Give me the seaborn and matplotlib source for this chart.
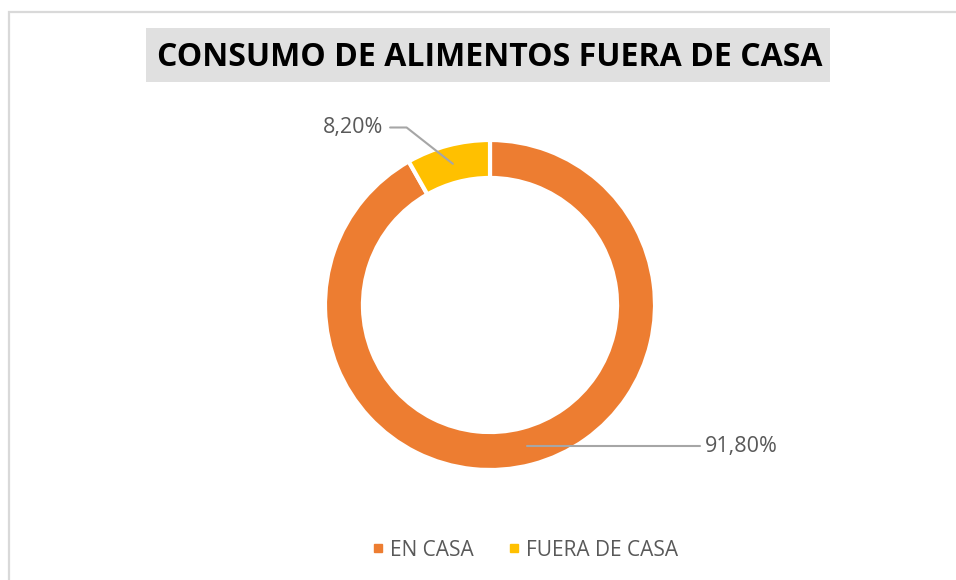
import numpy as np
import seaborn as sns
import matplotlib.pyplot as plt
from matplotlib.patches import Rectangle
from matplotlib.lines import Line2D

# data
categories = ["EN CASA", "FUERA DE CASA"]
shares = [91.8, 8.2]
pct_labels = ["91,80%", "8,20%"]

sns.set_theme(style="white")
plt.rcParams['font.family'] = ['Open Sans', 'DejaVu Sans']
colors = sns.color_palette(["#ED7D31", "#FFC000"])

W, H = 956, 580
fig = plt.figure(figsize=(W / 100, H / 100), dpi=100)

# chart frame
fig.patches.append(Rectangle((8.5 / W, -0.1), 1.2, 1 - 11.5 / H + 0.1, transform=fig.transFigure,
                             fill=False, edgecolor="#d9d9d9", lw=1.6, zorder=0))

# title with gray band
fig.patches.append(Rectangle((146 / W, 1 - 82 / H), 684 / W, 54 / H, transform=fig.transFigure,
                             facecolor="#e0e0e0", edgecolor="none", zorder=1))
fig.text(490 / W, 1 - 57 / H, "CONSUMO DE ALIMENTOS FUERA DE CASA", ha="center", va="center",
         fontsize=23, fontweight="bold", color="black", zorder=2)

# donut axes: center (490,305), radius 165 px
R = 165.0
half = 1.5 * R
ax = fig.add_axes([(490 - half) / W, (H - 305 - half) / H, 2 * half / W, 2 * half / H])
wedges, _ = ax.pie(shares, colors=colors, startangle=90, counterclock=False, radius=1,
                   wedgeprops=dict(width=0.23, edgecolor="white", linewidth=3))
ax.set_xlim(-1.5, 1.5)
ax.set_ylim(-1.5, 1.5)
ax.set_aspect("equal")
ax.axis("off")

# leader lines and labels
rm = 1 - 0.23 / 2
for w, lab in zip(wedges, pct_labels):
    ang = np.deg2rad((w.theta1 + w.theta2) / 2)
    px, py = rm * np.cos(ang), rm * np.sin(ang)
    if px > 0:
        ex = 1.27
        ax.plot([px, ex], [py, py], color="#a6a6a6", lw=1.5, clip_on=False)
        ax.text(ex + 0.03, py, lab, ha="left", va="center", fontsize=15.5, color="#595959")
    else:
        bx, by = px - 0.28, py + 0.22
        ax.plot([px, bx, bx - 0.1], [py, by, by], color="#a6a6a6", lw=1.5, clip_on=False)
        ax.text(bx - 0.14, by, lab, ha="right", va="center", fontsize=15.5, color="#595959")

handles = [Line2D([], [], marker="s", ls="none", markersize=6, color=c) for c in colors]
fig.legend(handles, categories, loc="center", bbox_to_anchor=(524 / W, 1 - 550 / H), ncol=2,
           frameon=False, fontsize=15, labelcolor="#595959", handletextpad=0.15,
           columnspacing=1.55, handlelength=0.8)

fig.savefig("out.png", dpi=100)
plt.close()
